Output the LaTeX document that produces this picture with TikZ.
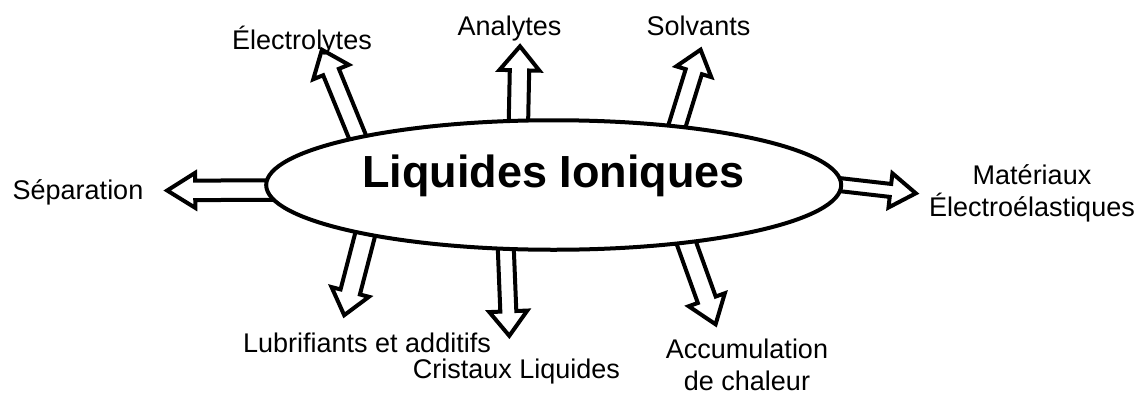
\documentclass[tikz,border=0pt]{standalone}
\usepackage{fontspec}
\setmainfont{Liberation Sans}
\usetikzlibrary{shapes.geometric,calc,backgrounds}

\tikzset{
  lbl/.style={anchor=base,inner sep=0pt,align=center,font=\fontsize{27}{32}\selectfont},
  hub/.style={ellipse,draw,fill=white,line width=4pt,inner sep=0pt,
    minimum width=575pt,minimum height=129.5pt,text height=28pt,text depth=24pt,
    font=\fontsize{45}{54}\selectfont\bfseries},
  ba geom/.code n args={3}{\def\baHl{#1}\def\baHw{#2}\def\baSw{#3}},
  ba geom={24}{19}{9.5},
  blockarrow/.style={draw,fill=white,line width=4pt,line join=miter,
    to path={let \p1=(\tikztostart), \p2=(\tikztotarget),
      \n1={atan2(\y2-\y1,\x2-\x1)}, \n2={veclen(\x2-\x1,\y2-\y1)-\baHl pt} in
      ($(\p1)+(\n1:-14pt)+(\n1+90:\baSw pt)$) -- ($(\p1)+(\n1:\n2)+(\n1+90:\baSw pt)$)
      -- ($(\p1)+(\n1:\n2)+(\n1+90:\baHw pt)$) -- (\p2)
      -- ($(\p1)+(\n1:\n2)+(\n1-90:\baHw pt)$) -- ($(\p1)+(\n1:\n2)+(\n1-90:\baSw pt)$)
      -- ($(\p1)+(\n1:-14pt)+(\n1-90:\baSw pt)$) -- cycle}}
}

\begin{document}
\begin{tikzpicture}[x=1pt,y=-1pt]
\path[use as bounding box] (0,0) rectangle (1141,394);
\node[hub] (il) at (553.7,185) {Liquides Ioniques};
\node[lbl] (lbElectro) at (302,49) {Électrolytes};
\node[lbl] (lbAnalyt) at (509.5,35) {Analytes};
\node[lbl] (lbSolv) at (698.5,35) {Solvants};
\node[lbl] (lbSepar) at (78,199) {Séparation};
\node[lbl] (lbMater) at (1032,216) {Matériaux\\Électroélastiques};
\node[lbl] (lbLubri) at (367,352) {Lubrifiants et additifs};
\node[lbl] (lbCrist) at (516.5,378) {Cristaux Liquides};
\node[lbl] (lbAccum) at (747,390) {Accumulation\\de chaleur};
\coordinate (tElectro) at (321.9,49.7);
\coordinate (tAnalyt) at (520,46.3);
\coordinate (tSolv) at (700.6,49.7);
\coordinate (tSepar) at (167.2,190.5);
\coordinate (tMater) at (915.8,193.3);
\coordinate (tLubri) at (344.2,315.2);
\coordinate (tCrist) at (509.3,335.8);
\coordinate (tAccum) at (715.6,324.3);
\begin{scope}[on background layer]
\draw[blockarrow,ba geom={24}{19.2}{8.5}] (il.166) to (tElectro);
\draw[blockarrow,ba geom={24}{20}{9.7}] (il.118) to (tAnalyt);
\draw[blockarrow,ba geom={23}{18.3}{8.5}] (il.26) to (tSolv);
\draw[blockarrow,ba geom={28}{17.5}{9.75}] (il.181) to (tSepar);
\draw[blockarrow,ba geom={25.5}{17.2}{6.5}] (il.0) to (tMater);
\draw[blockarrow,ba geom={24}{19.3}{10}] (il.195) to (tLubri);
\draw[blockarrow,ba geom={24.5}{19}{8}] (il.234) to (tCrist);
\draw[blockarrow,ba geom={26}{19.2}{9.5}] (il.336) to (tAccum);
\end{scope}
\end{tikzpicture}
\end{document}
